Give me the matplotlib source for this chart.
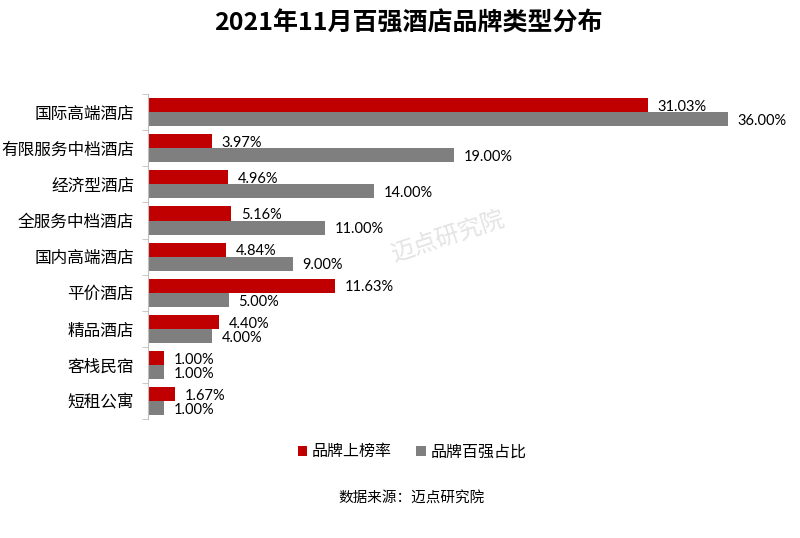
import matplotlib.pyplot as plt
import numpy as np

plt.rcParams['font.family'] = ['Noto Sans CJK SC', 'DejaVu Sans']

categories = ["国际高端酒店", "有限服务中档酒店", "经济型酒店", "全服务中档酒店",
              "国内高端酒店", "平价酒店", "精品酒店", "客栈民宿", "短租公寓"]
rank_rate = [31.03, 3.97, 4.96, 5.16, 4.84, 11.63, 4.40, 1.00, 1.67]
top100_share = [36.00, 19.00, 14.00, 11.00, 9.00, 5.00, 4.00, 1.00, 1.00]
series_names = ["品牌上榜率", "品牌百强占比"]

red = "#C00000"
gray = "#7F7F7F"

fig = plt.figure(figsize=(8, 5.38), dpi=100)
ax = fig.add_axes([0.185, 0.221, 0.725, 0.604])

y = np.arange(len(categories))
h = 0.39
ax.barh(y - h / 2, rank_rate, height=h, color=red, label=series_names[0])
ax.barh(y + h / 2, top100_share, height=h, color=gray, label=series_names[1])

num_font = ['Lato', 'DejaVu Sans']
for i in range(len(categories)):
    ax.annotate(f"{rank_rate[i]:.2f}%", (rank_rate[i], y[i] - h / 2 + 0.05),
                xytext=(7, 0), textcoords="offset points", va="center",
                fontsize=10.5, family=num_font)
    ax.annotate(f"{top100_share[i]:.2f}%", (top100_share[i], y[i] + h / 2 + 0.05),
                xytext=(7, 0), textcoords="offset points", va="center",
                fontsize=10.5, family=num_font)

ax.set_xlim(0, 36)
ax.set_ylim(len(categories) - 0.5, -0.5)
ax.set_yticks(y, categories, fontsize=12)
ax.set_yticks(np.arange(len(categories) + 1) - 0.5, minor=True)
ax.tick_params(axis="y", which="major", length=0, pad=10)
ax.tick_params(axis="y", which="minor", length=4, color="#BFBFBF")
ax.set_xticks([])
for s in ["top", "right", "bottom"]:
    ax.spines[s].set_visible(False)
ax.spines["left"].set_color("#BFBFBF")

fig.text(0.51, 0.957, "2021年11月百强酒店品牌类型分布", ha="center", va="center",
         fontsize=18, fontweight="bold")

fig.legend(loc="center", bbox_to_anchor=(0.515, 0.16), ncol=2, frameon=False,
           fontsize=11.5, handlelength=0.6, handleheight=0.6, handletextpad=0.3,
           columnspacing=1.5)

fig.text(0.515, 0.073, "数据来源：迈点研究院", ha="center", va="center", fontsize=10.5)

# faint watermark
fig.text(0.56, 0.56, "迈点研究院", ha="center", va="center", fontsize=17,
         color="#E4E4E4", rotation=18, zorder=0)

fig.savefig("out.png", dpi=100)
